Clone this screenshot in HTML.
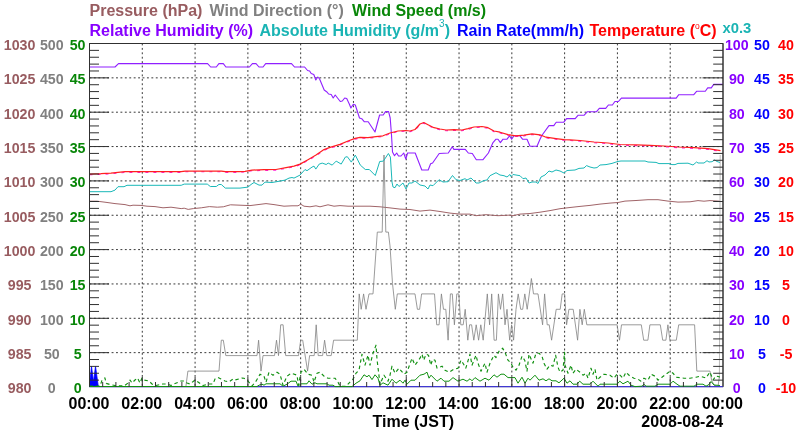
<!DOCTYPE html><html><head><meta charset="utf-8"><style>html,body{margin:0;padding:0;background:#fff;}svg{display:block;will-change:transform;}text{font-family:"Liberation Sans",sans-serif;font-weight:bold;}</style></head><body>
<svg width="800" height="434" viewBox="0 0 800 434">
<rect width="800" height="434" fill="#fff"/>
<g stroke="#383838" stroke-width="1" stroke-dasharray="1.9,2.52"><line x1="142.29" y1="43.5" x2="142.29" y2="387.0"/><line x1="195.08" y1="43.5" x2="195.08" y2="387.0"/><line x1="247.88" y1="43.5" x2="247.88" y2="387.0"/><line x1="300.67" y1="43.5" x2="300.67" y2="387.0"/><line x1="353.46" y1="43.5" x2="353.46" y2="387.0"/><line x1="406.25" y1="43.5" x2="406.25" y2="387.0"/><line x1="459.04" y1="43.5" x2="459.04" y2="387.0"/><line x1="511.83" y1="43.5" x2="511.83" y2="387.0"/><line x1="564.62" y1="43.5" x2="564.62" y2="387.0"/><line x1="617.42" y1="43.5" x2="617.42" y2="387.0"/><line x1="670.21" y1="43.5" x2="670.21" y2="387.0"/><line x1="89.5" y1="352.65" x2="723.0" y2="352.65"/><line x1="89.5" y1="318.3" x2="723.0" y2="318.3"/><line x1="89.5" y1="283.95" x2="723.0" y2="283.95"/><line x1="89.5" y1="249.6" x2="723.0" y2="249.6"/><line x1="89.5" y1="215.25" x2="723.0" y2="215.25"/><line x1="89.5" y1="180.9" x2="723.0" y2="180.9"/><line x1="89.5" y1="146.55" x2="723.0" y2="146.55"/><line x1="89.5" y1="112.2" x2="723.0" y2="112.2"/><line x1="89.5" y1="77.85" x2="723.0" y2="77.85"/></g>
<rect x="89.5" y="43.5" width="633.5" height="343.1" fill="none" stroke="#404040" stroke-width="1"/>
<polyline points="89.5,201.2 97.0,201.2 105.0,202.2 115.0,203.6 125.0,204.6 130.0,205.8 133.0,205.2 141.0,205.4 147.0,206.2 155.0,206.6 163.0,207.8 171.0,207.2 181.2,208.6 184.2,208.2 188.2,209.4 193.3,208.6 201.3,207.8 209.3,206.6 217.3,207.2 223.3,206.8 230.4,204.8 240.0,205.2 250.0,205.6 258.0,204.6 266.0,203.6 274.0,204.6 284.0,206.2 292.0,205.8 298.0,205.8 300.7,204.2 304.0,206.2 310.0,206.8 316.0,205.8 320.0,206.8 328.0,204.8 334.0,206.2 340.0,205.6 348.0,206.2 360.0,206.2 370.0,206.2 380.0,206.8 390.0,207.9 400.0,209.1 410.0,209.5 420.0,211.1 430.0,210.1 440.0,211.5 450.0,213.1 460.0,214.1 470.0,214.1 476.0,215.7 486.0,214.7 498.0,215.7 510.0,215.1 513.0,215.7 520.0,214.1 530.0,213.5 540.0,212.2 550.0,210.6 560.0,208.7 570.0,207.5 580.0,206.4 590.0,205.4 600.0,204.1 610.0,203.1 618.0,202.5 625.0,201.1 636.0,200.5 648.0,199.7 658.0,199.7 668.0,201.1 678.0,202.1 690.0,201.8 698.0,200.6 704.0,201.2 710.0,200.6 720.0,201.2" fill="none" stroke="#a06468" stroke-width="1" stroke-linejoin="round" />
<polyline points="89.5,386.5 185.9,386.5 187.9,371.1 219.0,371.1 221.3,340.2 223.3,340.2 225.8,355.6 257.0,355.6 258.6,340.2 261.0,371.1 263.0,355.6 274.5,355.6 276.5,340.2 278.5,355.6 280.7,324.8 283.1,324.8 285.7,355.6 298.5,355.6 300.7,340.2 302.7,340.2 307.6,371.1 309.6,355.6 314.2,355.6 316.2,324.8 318.2,355.6 322.6,355.6 324.6,340.2 326.8,355.6 331.2,355.6 333.6,340.2 357.3,340.2 359.2,293.9 361.2,309.3 363.6,293.9 366.0,309.3 369.0,293.9 373.0,293.9 377.3,232.1 382.2,232.1 384.0,155.0 385.8,232.1 388.4,232.1 390.0,245.9 392.5,283.6 395.3,309.3 397.3,293.9 415.0,293.9 417.4,309.3 419.6,309.3 421.6,293.9 434.5,293.9 436.7,324.8 439.1,324.8 441.4,293.9 443.5,309.3 445.8,309.3 448.1,340.2 450.4,293.9 452.3,293.9 454.4,324.8 456.8,293.9 458.8,293.9 460.8,324.8 463.2,324.8 465.2,309.3 467.8,340.2 469.6,324.8 471.6,324.8 473.8,340.2 476.2,324.8 478.6,340.2 480.8,324.8 483.2,340.2 487.3,293.9 489.6,324.8 491.7,293.9 494.1,340.2 496.4,340.2 498.4,293.9 500.5,309.3 502.7,293.9 505.0,324.8 507.0,309.3 509.7,340.2 511.6,324.8 513.6,340.2 516.0,309.3 518.2,293.9 520.7,309.3 522.7,309.3 524.8,293.9 527.2,309.3 531.4,278.5 533.5,293.9 538.0,293.9 542.6,324.8 544.6,293.9 547.2,324.8 549.2,324.8 551.6,340.2 556.2,309.3 560.2,309.3 562.2,293.9 564.6,293.9 566.6,324.8 568.9,309.3 573.2,309.3 577.6,340.2 579.9,309.3 582.2,324.8 584.3,309.3 586.8,324.8 617.1,324.8 619.5,340.2 621.5,324.8 641.3,324.8 643.7,340.2 647.9,340.2 649.9,324.8 660.3,324.8 662.7,340.2 665.9,340.2 667.9,324.8 669.9,340.2 676.3,340.2 678.7,324.8 694.6,324.8 696.8,371.1 710.0,371.1 711.6,380.3 714.0,385.1 718.0,386.5 719.4,376.9" fill="none" stroke="#828282" stroke-width="0.8" stroke-linejoin="round" />
<polyline points="719.4,376.9 720.2,155.0" fill="none" stroke="#a8a8a8" stroke-width="0.8" stroke-linejoin="round" />
<line x1="89.5" y1="386.6" x2="723" y2="386.6" stroke="#4038d0" stroke-width="1.1"/>
<polygon points="89.5,386.5 89.5,378.5 90.3,378 91.5,366.3 93.5,382 95.5,366.3 98.3,386.5" fill="#0000ff" stroke="#0000ff" stroke-width="0.8"/>
<polyline points="89.5,386.5 257.0,386.5 259.0,385.2 262.0,384.2 264.0,385.2 266.0,383.8 280.0,383.8 283.0,386.2 287.0,384.2 291.0,381.2 296.0,381.2 298.0,386.2 301.0,383.8 307.0,383.8 309.0,380.8 312.0,384.2 315.0,382.8 317.0,383.8 327.0,383.8 329.0,385.2 333.0,385.2 335.0,386.6 352.0,386.6 356.0,383.2 360.0,380.8 364.0,374.8 367.0,376.8 369.0,375.2 372.0,379.6 375.0,374.8 378.0,378.2 380.0,385.2 383.0,382.8 388.0,385.2 392.0,379.2 396.0,383.2 400.0,380.2 403.0,383.2 405.0,380.2 407.0,384.2 411.0,380.2 415.0,380.2 420.0,375.2 424.0,374.2 427.0,372.2 429.0,378.2 431.0,375.2 437.0,381.2 441.0,378.2 444.0,381.2 449.0,381.2 453.0,377.6 458.0,381.2 463.0,379.2 467.0,381.2 470.0,378.8 472.0,380.8 475.0,377.6 480.0,381.2 485.0,378.2 489.0,380.2 494.0,374.8 497.0,377.2 501.0,374.2 504.0,374.2 508.0,377.6 515.0,377.6 518.0,383.2 522.0,377.2 525.0,383.2 528.0,378.2 530.0,380.2 535.0,375.2 539.0,380.2 543.0,378.8 546.0,380.8 549.0,378.8 552.0,380.8 556.0,380.8 559.0,382.8 564.0,378.2 567.0,383.2 570.0,380.8 573.0,384.2 577.0,384.2 579.7,381.2 583.0,384.2 590.0,384.2 593.0,381.2 598.0,386.2 600.0,384.2 617.0,384.2 619.8,381.2 623.0,383.8 628.0,381.2 631.0,385.2 635.0,386.6 642.0,386.2 644.0,384.2 646.0,386.2 655.0,386.2 658.0,384.2 670.0,384.2 673.0,381.2 677.0,384.2 680.0,386.2 694.0,386.2 697.0,384.2 703.0,384.2 706.0,386.2 709.0,384.5 711.0,381.5 714.0,385.0 720.0,385.5" fill="none" stroke="#109010" stroke-width="1" stroke-linejoin="round" />
<polyline points="89.5,386.0 100.0,386.0 101.9,380.6 104.9,377.8 106.2,383.4 109.6,384.4 115.0,385.5 124.0,386.0 128.0,383.0 130.0,380.0 132.0,383.0 135.0,380.0 137.5,378.0 140.0,383.0 142.0,378.0 144.0,380.0 149.0,381.0 152.0,384.0 156.0,385.5 163.0,384.0 167.0,384.0 171.0,385.5 174.0,384.0 179.0,382.0 181.0,381.0 184.0,381.0 187.0,383.0 190.0,384.0 195.0,380.0 198.0,382.0 203.0,385.5 209.0,384.0 213.0,384.0 215.0,379.0 218.0,377.5 221.0,379.0 225.0,381.0 229.0,382.0 233.0,379.0 235.0,380.0 239.0,379.0 242.0,378.0 244.0,378.2 248.0,381.2 252.0,386.0 256.0,381.2 260.0,374.2 264.0,376.2 266.0,382.2 269.0,372.2 273.0,375.2 277.0,372.2 280.0,374.2 283.0,385.2 287.0,376.2 291.0,373.2 297.0,375.2 298.5,385.2 301.0,372.2 304.0,369.2 308.0,374.2 312.0,375.2 314.0,382.2 317.0,373.2 320.0,372.2 324.0,376.2 328.0,378.2 335.0,378.2 338.0,382.2 340.0,386.2 346.0,386.2 350.0,382.2 353.0,379.2 356.0,373.2 359.0,370.2 362.0,354.2 365.0,365.2 368.0,355.2 370.0,365.2 373.0,353.2 376.0,345.2 377.0,359.2 380.0,384.2 384.0,375.2 388.0,381.2 390.0,375.2 392.0,366.2 395.0,373.2 399.0,368.2 404.0,374.2 407.0,372.2 412.0,358.2 415.0,365.2 420.0,358.2 422.0,354.2 423.7,360.2 426.0,354.2 428.5,355.2 430.7,365.2 432.7,359.2 435.0,360.2 437.0,368.2 442.0,366.2 445.0,370.2 449.0,372.2 454.0,369.2 458.0,368.2 461.0,360.2 463.0,363.2 465.8,368.2 470.0,354.2 472.0,365.2 476.0,355.2 478.0,363.2 481.0,371.2 485.0,363.2 487.0,372.2 490.0,363.2 494.0,355.2 496.0,357.6 499.0,351.2 502.7,348.2 505.0,352.2 508.0,360.2 511.0,363.2 513.0,367.2 516.0,370.2 519.0,365.2 522.0,356.2 524.7,360.2 527.0,371.2 529.0,354.2 533.0,363.2 536.0,353.2 539.0,353.2 542.0,356.2 544.0,363.2 547.0,369.2 550.0,365.2 553.0,366.2 555.6,355.2 558.0,367.2 560.0,372.2 563.0,370.2 564.5,352.2 565.0,365.2 568.0,373.2 571.0,365.2 573.0,373.2 576.0,369.2 580.0,372.2 583.0,375.2 586.0,373.2 588.0,378.2 591.0,368.2 593.0,374.2 595.0,369.2 597.0,380.2 600.0,377.2 604.0,374.2 610.0,375.2 614.0,378.2 617.0,374.2 620.0,375.2 623.0,378.2 626.0,372.2 630.0,376.2 634.0,378.2 638.0,379.2 641.0,381.2 644.0,378.2 648.0,380.2 651.0,374.2 655.0,376.2 658.0,380.2 662.0,377.2 666.0,374.2 670.0,371.2 673.0,373.2 676.0,377.2 684.0,378.2 690.0,378.2 696.0,377.2 700.0,376.2 706.0,378.0 710.0,372.0 713.0,380.0 716.0,376.0 720.0,377.0" fill="none" stroke="#109010" stroke-width="1.15" stroke-linejoin="round" stroke-dasharray="3.5,3"/>
<polyline points="89.5,67.0 115.0,67.0 118.5,63.6 207.6,63.6 210.7,67.0 216.3,67.0 218.9,63.6 223.3,63.6 225.9,67.0 249.4,67.0 252.4,63.6 256.0,63.6 259.0,67.0 263.0,67.0 265.7,63.6 291.5,63.6 294.5,67.0 304.6,67.0 307.6,70.5 309.6,71.0 311.2,73.5 313.8,74.5 315.8,80.0 317.8,77.0 319.6,79.0 324.2,90.0 326.6,91.7 328.6,94.0 331.2,94.5 333.2,98.0 335.2,95.0 340.3,101.5 342.3,101.0 344.7,98.0 346.7,98.5 349.3,104.0 350.9,108.0 353.3,104.3 355.3,105.0 359.5,118.0 361.7,118.7 364.2,121.7 368.2,121.7 375.0,132.0 379.6,115.0 383.2,115.0 385.5,111.6 388.6,111.6 390.2,118.0 391.5,135.0 392.5,152.0 394.5,155.7 396.7,153.0 398.5,156.0 401.0,156.0 403.7,153.0 405.8,159.0 407.6,153.0 415.2,153.0 421.8,170.0 428.2,170.0 430.6,163.8 432.6,163.0 439.2,153.5 448.3,153.0 452.3,146.7 453.9,149.4 465.3,149.4 468.3,153.0 472.3,153.5 476.3,159.8 482.8,159.8 488.4,153.0 490.8,147.5 493.0,142.6 496.0,139.2 498.0,139.2 500.4,142.6 503.0,139.2 507.0,139.2 509.6,135.8 511.6,139.2 514.0,135.8 520.0,135.8 522.5,139.2 527.0,139.2 530.0,146.2 537.0,146.2 540.0,139.2 542.0,135.2 549.0,125.6 553.8,125.6 556.2,122.2 563.8,122.2 566.6,118.6 575.2,118.6 578.2,115.2 584.2,115.2 587.2,111.8 596.3,111.8 599.3,108.4 605.7,108.4 608.4,105.0 612.4,105.0 614.9,101.5 618.4,101.5 621.4,98.1 676.2,98.1 678.8,94.7 693.8,94.7 696.6,91.3 705.3,91.3 707.7,87.9 711.3,87.9 713.7,84.4 722.7,84.4" fill="none" stroke="#9020ff" stroke-width="1.1" stroke-linejoin="round" />
<polyline points="89.5,191.7 111.0,191.7 115.0,190.1 118.0,186.7 124.0,186.7 127.0,185.3 181.2,185.3 184.2,184.1 207.3,184.1 210.3,186.5 216.3,186.5 218.9,184.5 221.3,184.5 225.3,188.1 240.0,188.1 248.0,187.1 251.0,184.5 254.0,182.5 259.0,185.1 262.0,185.1 265.0,182.1 272.0,182.5 280.0,181.1 285.0,180.1 289.0,178.1 292.0,177.5 294.0,178.1 300.0,175.1 305.0,169.5 307.0,170.7 312.0,167.1 314.0,166.1 315.8,169.1 319.2,164.1 322.2,163.1 326.2,164.5 328.2,163.1 332.2,165.1 336.2,161.1 341.2,164.1 345.3,157.1 347.3,156.7 351.3,162.1 355.3,155.1 360.3,165.1 365.3,169.5 369.3,169.5 375.3,175.5 379.7,161.5 383.4,161.1 388.4,153.5 390.4,157.1 392.0,182.0 393.0,187.0 395.0,187.7 397.0,184.0 399.0,186.5 403.0,183.0 406.0,189.0 409.0,183.0 412.0,183.0 415.0,181.0 420.0,185.0 425.0,186.0 428.0,189.0 430.0,185.0 433.0,185.7 439.0,179.7 443.0,182.0 448.0,181.7 452.5,175.5 456.0,179.7 460.0,180.5 465.0,178.7 467.0,180.0 471.0,178.0 476.0,183.0 479.0,183.0 484.0,180.5 487.0,180.0 490.0,175.7 496.0,172.7 500.0,175.0 504.0,175.7 507.0,177.0 510.0,174.5 511.0,176.5 513.0,174.5 520.0,175.7 523.0,178.7 526.0,178.0 529.0,183.0 532.0,182.0 536.0,182.0 538.0,183.5 541.0,177.0 545.0,175.0 549.0,171.0 552.0,172.0 556.0,170.0 560.0,171.0 564.0,173.0 567.0,170.5 575.0,170.0 579.0,168.4 584.0,168.0 586.5,165.6 590.0,167.0 594.0,168.0 597.0,167.6 600.0,165.0 606.0,164.6 612.0,163.4 618.0,161.4 621.0,161.0 645.0,161.0 648.0,162.0 656.0,162.4 659.0,163.6 669.0,163.6 672.0,164.6 675.0,164.6 678.0,163.4 688.0,163.2 693.0,165.0 696.6,162.0 698.0,163.0 704.0,163.0 707.0,160.7 709.0,162.0 712.0,161.7 714.6,160.0 717.0,161.5 720.0,162.5" fill="none" stroke="#1ab8b8" stroke-width="1" stroke-linejoin="round" />
<polyline points="89.5,174.8 101.0,174.4 111.0,173.8 125.0,172.4 181.2,172.4 185.2,171.8 221.3,171.8 225.3,172.4 239.4,172.4 245.0,172.0 252.0,170.8 264.0,170.4 276.0,170.2 286.0,168.4 294.0,166.8 300.0,164.8 308.0,160.4 316.0,155.8 324.0,150.3 330.0,148.1 340.0,145.1 348.0,141.7 355.0,139.1 360.0,138.1 368.0,138.3 376.0,137.3 383.0,136.5 390.0,133.7 398.0,131.7 406.0,131.2 410.0,131.7 415.0,130.2 420.0,124.7 423.8,123.2 428.0,125.4 434.0,128.4 440.0,129.7 446.0,130.7 454.0,130.4 462.0,130.7 468.0,129.4 474.0,127.7 482.0,127.2 488.0,128.4 494.0,131.7 500.0,132.9 508.0,135.3 516.0,136.5 524.0,135.9 532.0,134.5 540.0,135.5 546.0,137.9 556.0,139.3 564.0,140.3 570.0,140.5 580.0,141.2 594.0,142.7 608.0,143.7 620.0,145.2 636.0,145.6 650.0,146.0 664.0,146.7 678.0,147.7 694.0,148.4 708.0,149.4 720.5,151.4" fill="none" stroke="#ff20e0" stroke-width="1.1" stroke-linejoin="round" stroke-dasharray="3,5"/>
<polyline points="89.5,174.1 101.0,173.7 111.0,173.1 125.0,171.7 181.2,171.7 185.2,171.1 221.3,171.1 225.3,171.7 239.4,171.7 245.0,171.3 252.0,170.1 264.0,169.7 276.0,169.5 286.0,167.7 294.0,166.1 300.0,164.1 308.0,159.7 316.0,155.1 324.0,149.6 330.0,147.4 340.0,144.4 348.0,141.0 355.0,138.4 360.0,137.4 368.0,137.6 376.0,136.6 383.0,135.8 390.0,133.0 398.0,131.0 406.0,130.5 410.0,131.0 415.0,129.5 420.0,124.0 423.8,122.5 428.0,124.7 434.0,127.7 440.0,129.0 446.0,130.0 454.0,129.7 462.0,130.0 468.0,128.7 474.0,127.0 482.0,126.5 488.0,127.7 494.0,131.0 500.0,132.2 508.0,134.6 516.0,135.8 524.0,135.2 532.0,133.8 540.0,134.8 546.0,137.2 556.0,138.6 564.0,139.6 570.0,139.8 580.0,140.5 594.0,142.0 608.0,143.0 620.0,144.5 636.0,144.9 650.0,145.3 664.0,146.0 678.0,147.0 694.0,147.7 708.0,148.7 720.5,150.7" fill="none" stroke="#ff2020" stroke-width="1.2" stroke-linejoin="round" />
<g stroke="#303030" stroke-width="1"><line x1="89.5" y1="43.5" x2="89.5" y2="386.6"/><line x1="723.0" y1="43.5" x2="723.0" y2="386.6"/><line x1="89.5" y1="43.5" x2="723.0" y2="43.5"/><line x1="89.5" y1="380.13" x2="99.0" y2="380.13"/><line x1="723.0" y1="380.13" x2="713.2" y2="380.13"/><line x1="89.5" y1="373.26" x2="99.0" y2="373.26"/><line x1="723.0" y1="373.26" x2="713.2" y2="373.26"/><line x1="89.5" y1="366.39" x2="99.0" y2="366.39"/><line x1="723.0" y1="366.39" x2="713.2" y2="366.39"/><line x1="89.5" y1="359.52" x2="99.0" y2="359.52"/><line x1="723.0" y1="359.52" x2="713.2" y2="359.52"/><line x1="89.5" y1="352.65" x2="109.0" y2="352.65"/><line x1="723.0" y1="352.65" x2="702.5" y2="352.65"/><line x1="89.5" y1="345.78" x2="99.0" y2="345.78"/><line x1="723.0" y1="345.78" x2="713.2" y2="345.78"/><line x1="89.5" y1="338.91" x2="99.0" y2="338.91"/><line x1="723.0" y1="338.91" x2="713.2" y2="338.91"/><line x1="89.5" y1="332.04" x2="99.0" y2="332.04"/><line x1="723.0" y1="332.04" x2="713.2" y2="332.04"/><line x1="89.5" y1="325.17" x2="99.0" y2="325.17"/><line x1="723.0" y1="325.17" x2="713.2" y2="325.17"/><line x1="89.5" y1="318.3" x2="109.0" y2="318.3"/><line x1="723.0" y1="318.3" x2="702.5" y2="318.3"/><line x1="89.5" y1="311.43" x2="99.0" y2="311.43"/><line x1="723.0" y1="311.43" x2="713.2" y2="311.43"/><line x1="89.5" y1="304.56" x2="99.0" y2="304.56"/><line x1="723.0" y1="304.56" x2="713.2" y2="304.56"/><line x1="89.5" y1="297.69" x2="99.0" y2="297.69"/><line x1="723.0" y1="297.69" x2="713.2" y2="297.69"/><line x1="89.5" y1="290.82" x2="99.0" y2="290.82"/><line x1="723.0" y1="290.82" x2="713.2" y2="290.82"/><line x1="89.5" y1="283.95" x2="109.0" y2="283.95"/><line x1="723.0" y1="283.95" x2="702.5" y2="283.95"/><line x1="89.5" y1="277.08" x2="99.0" y2="277.08"/><line x1="723.0" y1="277.08" x2="713.2" y2="277.08"/><line x1="89.5" y1="270.21" x2="99.0" y2="270.21"/><line x1="723.0" y1="270.21" x2="713.2" y2="270.21"/><line x1="89.5" y1="263.34" x2="99.0" y2="263.34"/><line x1="723.0" y1="263.34" x2="713.2" y2="263.34"/><line x1="89.5" y1="256.47" x2="99.0" y2="256.47"/><line x1="723.0" y1="256.47" x2="713.2" y2="256.47"/><line x1="89.5" y1="249.6" x2="109.0" y2="249.6"/><line x1="723.0" y1="249.6" x2="702.5" y2="249.6"/><line x1="89.5" y1="242.73" x2="99.0" y2="242.73"/><line x1="723.0" y1="242.73" x2="713.2" y2="242.73"/><line x1="89.5" y1="235.86" x2="99.0" y2="235.86"/><line x1="723.0" y1="235.86" x2="713.2" y2="235.86"/><line x1="89.5" y1="228.99" x2="99.0" y2="228.99"/><line x1="723.0" y1="228.99" x2="713.2" y2="228.99"/><line x1="89.5" y1="222.12" x2="99.0" y2="222.12"/><line x1="723.0" y1="222.12" x2="713.2" y2="222.12"/><line x1="89.5" y1="215.25" x2="109.0" y2="215.25"/><line x1="723.0" y1="215.25" x2="702.5" y2="215.25"/><line x1="89.5" y1="208.38" x2="99.0" y2="208.38"/><line x1="723.0" y1="208.38" x2="713.2" y2="208.38"/><line x1="89.5" y1="201.51" x2="99.0" y2="201.51"/><line x1="723.0" y1="201.51" x2="713.2" y2="201.51"/><line x1="89.5" y1="194.64" x2="99.0" y2="194.64"/><line x1="723.0" y1="194.64" x2="713.2" y2="194.64"/><line x1="89.5" y1="187.77" x2="99.0" y2="187.77"/><line x1="723.0" y1="187.77" x2="713.2" y2="187.77"/><line x1="89.5" y1="180.9" x2="109.0" y2="180.9"/><line x1="723.0" y1="180.9" x2="702.5" y2="180.9"/><line x1="89.5" y1="174.03" x2="99.0" y2="174.03"/><line x1="723.0" y1="174.03" x2="713.2" y2="174.03"/><line x1="89.5" y1="167.16" x2="99.0" y2="167.16"/><line x1="723.0" y1="167.16" x2="713.2" y2="167.16"/><line x1="89.5" y1="160.29" x2="99.0" y2="160.29"/><line x1="723.0" y1="160.29" x2="713.2" y2="160.29"/><line x1="89.5" y1="153.42" x2="99.0" y2="153.42"/><line x1="723.0" y1="153.42" x2="713.2" y2="153.42"/><line x1="89.5" y1="146.55" x2="109.0" y2="146.55"/><line x1="723.0" y1="146.55" x2="702.5" y2="146.55"/><line x1="89.5" y1="139.68" x2="99.0" y2="139.68"/><line x1="723.0" y1="139.68" x2="713.2" y2="139.68"/><line x1="89.5" y1="132.81" x2="99.0" y2="132.81"/><line x1="723.0" y1="132.81" x2="713.2" y2="132.81"/><line x1="89.5" y1="125.94" x2="99.0" y2="125.94"/><line x1="723.0" y1="125.94" x2="713.2" y2="125.94"/><line x1="89.5" y1="119.07" x2="99.0" y2="119.07"/><line x1="723.0" y1="119.07" x2="713.2" y2="119.07"/><line x1="89.5" y1="112.2" x2="109.0" y2="112.2"/><line x1="723.0" y1="112.2" x2="702.5" y2="112.2"/><line x1="89.5" y1="105.33" x2="99.0" y2="105.33"/><line x1="723.0" y1="105.33" x2="713.2" y2="105.33"/><line x1="89.5" y1="98.46" x2="99.0" y2="98.46"/><line x1="723.0" y1="98.46" x2="713.2" y2="98.46"/><line x1="89.5" y1="91.59" x2="99.0" y2="91.59"/><line x1="723.0" y1="91.59" x2="713.2" y2="91.59"/><line x1="89.5" y1="84.72" x2="99.0" y2="84.72"/><line x1="723.0" y1="84.72" x2="713.2" y2="84.72"/><line x1="89.5" y1="77.85" x2="109.0" y2="77.85"/><line x1="723.0" y1="77.85" x2="702.5" y2="77.85"/><line x1="89.5" y1="70.98" x2="99.0" y2="70.98"/><line x1="723.0" y1="70.98" x2="713.2" y2="70.98"/><line x1="89.5" y1="64.11" x2="99.0" y2="64.11"/><line x1="723.0" y1="64.11" x2="713.2" y2="64.11"/><line x1="89.5" y1="57.24" x2="99.0" y2="57.24"/><line x1="723.0" y1="57.24" x2="713.2" y2="57.24"/><line x1="89.5" y1="50.37" x2="99.0" y2="50.37"/><line x1="723.0" y1="50.37" x2="713.2" y2="50.37"/><line x1="102.7" y1="387.0" x2="102.7" y2="382.0"/><line x1="115.9" y1="387.0" x2="115.9" y2="382.0"/><line x1="129.09" y1="387.0" x2="129.09" y2="382.0"/><line x1="142.29" y1="387.0" x2="142.29" y2="377.0"/><line x1="155.49" y1="387.0" x2="155.49" y2="382.0"/><line x1="168.69" y1="387.0" x2="168.69" y2="382.0"/><line x1="181.89" y1="387.0" x2="181.89" y2="382.0"/><line x1="195.08" y1="387.0" x2="195.08" y2="377.0"/><line x1="208.28" y1="387.0" x2="208.28" y2="382.0"/><line x1="221.48" y1="387.0" x2="221.48" y2="382.0"/><line x1="234.68" y1="387.0" x2="234.68" y2="382.0"/><line x1="247.88" y1="387.0" x2="247.88" y2="377.0"/><line x1="261.07" y1="387.0" x2="261.07" y2="382.0"/><line x1="274.27" y1="387.0" x2="274.27" y2="382.0"/><line x1="287.47" y1="387.0" x2="287.47" y2="382.0"/><line x1="300.67" y1="387.0" x2="300.67" y2="377.0"/><line x1="313.86" y1="387.0" x2="313.86" y2="382.0"/><line x1="327.06" y1="387.0" x2="327.06" y2="382.0"/><line x1="340.26" y1="387.0" x2="340.26" y2="382.0"/><line x1="353.46" y1="387.0" x2="353.46" y2="377.0"/><line x1="366.66" y1="387.0" x2="366.66" y2="382.0"/><line x1="379.85" y1="387.0" x2="379.85" y2="382.0"/><line x1="393.05" y1="387.0" x2="393.05" y2="382.0"/><line x1="406.25" y1="387.0" x2="406.25" y2="377.0"/><line x1="419.45" y1="387.0" x2="419.45" y2="382.0"/><line x1="432.65" y1="387.0" x2="432.65" y2="382.0"/><line x1="445.84" y1="387.0" x2="445.84" y2="382.0"/><line x1="459.04" y1="387.0" x2="459.04" y2="377.0"/><line x1="472.24" y1="387.0" x2="472.24" y2="382.0"/><line x1="485.44" y1="387.0" x2="485.44" y2="382.0"/><line x1="498.64" y1="387.0" x2="498.64" y2="382.0"/><line x1="511.83" y1="387.0" x2="511.83" y2="377.0"/><line x1="525.03" y1="387.0" x2="525.03" y2="382.0"/><line x1="538.23" y1="387.0" x2="538.23" y2="382.0"/><line x1="551.43" y1="387.0" x2="551.43" y2="382.0"/><line x1="564.62" y1="387.0" x2="564.62" y2="377.0"/><line x1="577.82" y1="387.0" x2="577.82" y2="382.0"/><line x1="591.02" y1="387.0" x2="591.02" y2="382.0"/><line x1="604.22" y1="387.0" x2="604.22" y2="382.0"/><line x1="617.42" y1="387.0" x2="617.42" y2="377.0"/><line x1="630.61" y1="387.0" x2="630.61" y2="382.0"/><line x1="643.81" y1="387.0" x2="643.81" y2="382.0"/><line x1="657.01" y1="387.0" x2="657.01" y2="382.0"/><line x1="670.21" y1="387.0" x2="670.21" y2="377.0"/><line x1="683.41" y1="387.0" x2="683.41" y2="382.0"/><line x1="696.6" y1="387.0" x2="696.6" y2="382.0"/><line x1="709.8" y1="387.0" x2="709.8" y2="382.0"/></g>
<text transform="translate(19.6 393.4) scale(0.95 1)" fill="#985c60" font-size="15" text-anchor="middle">980</text><text transform="translate(51.8 393.4) scale(0.95 1)" fill="#808080" font-size="15" text-anchor="middle">0</text><text transform="translate(77.6 393.4) scale(0.95 1)" fill="#088608" font-size="15" text-anchor="middle">0</text><text transform="translate(736.8 393.4) scale(0.95 1)" fill="#8800ff" font-size="15" text-anchor="middle">0</text><text transform="translate(762 393.4) scale(0.95 1)" fill="#0000ff" font-size="15" text-anchor="middle">0</text><text transform="translate(786 393.4) scale(0.95 1)" fill="#ff0000" font-size="15" text-anchor="middle">-10</text><text transform="translate(19.6 359.0) scale(0.95 1)" fill="#985c60" font-size="15" text-anchor="middle">985</text><text transform="translate(51.8 359.0) scale(0.95 1)" fill="#808080" font-size="15" text-anchor="middle">50</text><text transform="translate(77.6 359.0) scale(0.95 1)" fill="#088608" font-size="15" text-anchor="middle">5</text><text transform="translate(736.8 359.0) scale(0.95 1)" fill="#8800ff" font-size="15" text-anchor="middle">10</text><text transform="translate(762 359.0) scale(0.95 1)" fill="#0000ff" font-size="15" text-anchor="middle">5</text><text transform="translate(786 359.0) scale(0.95 1)" fill="#ff0000" font-size="15" text-anchor="middle">-5</text><text transform="translate(19.6 324.7) scale(0.95 1)" fill="#985c60" font-size="15" text-anchor="middle">990</text><text transform="translate(51.8 324.7) scale(0.95 1)" fill="#808080" font-size="15" text-anchor="middle">100</text><text transform="translate(77.6 324.7) scale(0.95 1)" fill="#088608" font-size="15" text-anchor="middle">10</text><text transform="translate(736.8 324.7) scale(0.95 1)" fill="#8800ff" font-size="15" text-anchor="middle">20</text><text transform="translate(762 324.7) scale(0.95 1)" fill="#0000ff" font-size="15" text-anchor="middle">10</text><text transform="translate(786 324.7) scale(0.95 1)" fill="#ff0000" font-size="15" text-anchor="middle">0</text><text transform="translate(19.6 290.3) scale(0.95 1)" fill="#985c60" font-size="15" text-anchor="middle">995</text><text transform="translate(51.8 290.3) scale(0.95 1)" fill="#808080" font-size="15" text-anchor="middle">150</text><text transform="translate(77.6 290.3) scale(0.95 1)" fill="#088608" font-size="15" text-anchor="middle">15</text><text transform="translate(736.8 290.3) scale(0.95 1)" fill="#8800ff" font-size="15" text-anchor="middle">30</text><text transform="translate(762 290.3) scale(0.95 1)" fill="#0000ff" font-size="15" text-anchor="middle">15</text><text transform="translate(786 290.3) scale(0.95 1)" fill="#ff0000" font-size="15" text-anchor="middle">5</text><text transform="translate(19.6 256.0) scale(0.95 1)" fill="#985c60" font-size="15" text-anchor="middle">1000</text><text transform="translate(51.8 256.0) scale(0.95 1)" fill="#808080" font-size="15" text-anchor="middle">200</text><text transform="translate(77.6 256.0) scale(0.95 1)" fill="#088608" font-size="15" text-anchor="middle">20</text><text transform="translate(736.8 256.0) scale(0.95 1)" fill="#8800ff" font-size="15" text-anchor="middle">40</text><text transform="translate(762 256.0) scale(0.95 1)" fill="#0000ff" font-size="15" text-anchor="middle">20</text><text transform="translate(786 256.0) scale(0.95 1)" fill="#ff0000" font-size="15" text-anchor="middle">10</text><text transform="translate(19.6 221.7) scale(0.95 1)" fill="#985c60" font-size="15" text-anchor="middle">1005</text><text transform="translate(51.8 221.7) scale(0.95 1)" fill="#808080" font-size="15" text-anchor="middle">250</text><text transform="translate(77.6 221.7) scale(0.95 1)" fill="#088608" font-size="15" text-anchor="middle">25</text><text transform="translate(736.8 221.7) scale(0.95 1)" fill="#8800ff" font-size="15" text-anchor="middle">50</text><text transform="translate(762 221.7) scale(0.95 1)" fill="#0000ff" font-size="15" text-anchor="middle">25</text><text transform="translate(786 221.7) scale(0.95 1)" fill="#ff0000" font-size="15" text-anchor="middle">15</text><text transform="translate(19.6 187.3) scale(0.95 1)" fill="#985c60" font-size="15" text-anchor="middle">1010</text><text transform="translate(51.8 187.3) scale(0.95 1)" fill="#808080" font-size="15" text-anchor="middle">300</text><text transform="translate(77.6 187.3) scale(0.95 1)" fill="#088608" font-size="15" text-anchor="middle">30</text><text transform="translate(736.8 187.3) scale(0.95 1)" fill="#8800ff" font-size="15" text-anchor="middle">60</text><text transform="translate(762 187.3) scale(0.95 1)" fill="#0000ff" font-size="15" text-anchor="middle">30</text><text transform="translate(786 187.3) scale(0.95 1)" fill="#ff0000" font-size="15" text-anchor="middle">20</text><text transform="translate(19.6 153.0) scale(0.95 1)" fill="#985c60" font-size="15" text-anchor="middle">1015</text><text transform="translate(51.8 153.0) scale(0.95 1)" fill="#808080" font-size="15" text-anchor="middle">350</text><text transform="translate(77.6 153.0) scale(0.95 1)" fill="#088608" font-size="15" text-anchor="middle">35</text><text transform="translate(736.8 153.0) scale(0.95 1)" fill="#8800ff" font-size="15" text-anchor="middle">70</text><text transform="translate(762 153.0) scale(0.95 1)" fill="#0000ff" font-size="15" text-anchor="middle">35</text><text transform="translate(786 153.0) scale(0.95 1)" fill="#ff0000" font-size="15" text-anchor="middle">25</text><text transform="translate(19.6 118.6) scale(0.95 1)" fill="#985c60" font-size="15" text-anchor="middle">1020</text><text transform="translate(51.8 118.6) scale(0.95 1)" fill="#808080" font-size="15" text-anchor="middle">400</text><text transform="translate(77.6 118.6) scale(0.95 1)" fill="#088608" font-size="15" text-anchor="middle">40</text><text transform="translate(736.8 118.6) scale(0.95 1)" fill="#8800ff" font-size="15" text-anchor="middle">80</text><text transform="translate(762 118.6) scale(0.95 1)" fill="#0000ff" font-size="15" text-anchor="middle">40</text><text transform="translate(786 118.6) scale(0.95 1)" fill="#ff0000" font-size="15" text-anchor="middle">30</text><text transform="translate(19.6 84.2) scale(0.95 1)" fill="#985c60" font-size="15" text-anchor="middle">1025</text><text transform="translate(51.8 84.2) scale(0.95 1)" fill="#808080" font-size="15" text-anchor="middle">450</text><text transform="translate(77.6 84.2) scale(0.95 1)" fill="#088608" font-size="15" text-anchor="middle">45</text><text transform="translate(736.8 84.2) scale(0.95 1)" fill="#8800ff" font-size="15" text-anchor="middle">90</text><text transform="translate(762 84.2) scale(0.95 1)" fill="#0000ff" font-size="15" text-anchor="middle">45</text><text transform="translate(786 84.2) scale(0.95 1)" fill="#ff0000" font-size="15" text-anchor="middle">35</text><text transform="translate(19.6 49.9) scale(0.95 1)" fill="#985c60" font-size="15" text-anchor="middle">1030</text><text transform="translate(51.8 49.9) scale(0.95 1)" fill="#808080" font-size="15" text-anchor="middle">500</text><text transform="translate(77.6 49.9) scale(0.95 1)" fill="#088608" font-size="15" text-anchor="middle">50</text><text transform="translate(736.8 49.9) scale(0.95 1)" fill="#8800ff" font-size="15" text-anchor="middle">100</text><text transform="translate(762 49.9) scale(0.95 1)" fill="#0000ff" font-size="15" text-anchor="middle">50</text><text transform="translate(786 49.9) scale(0.95 1)" fill="#ff0000" font-size="15" text-anchor="middle">40</text><text transform="translate(89.0 409.2) scale(1 1)" fill="#000" font-size="16" text-anchor="middle">00:00</text><text transform="translate(141.8 409.2) scale(1 1)" fill="#000" font-size="16" text-anchor="middle">02:00</text><text transform="translate(194.6 409.2) scale(1 1)" fill="#000" font-size="16" text-anchor="middle">04:00</text><text transform="translate(247.4 409.2) scale(1 1)" fill="#000" font-size="16" text-anchor="middle">06:00</text><text transform="translate(300.2 409.2) scale(1 1)" fill="#000" font-size="16" text-anchor="middle">08:00</text><text transform="translate(353.0 409.2) scale(1 1)" fill="#000" font-size="16" text-anchor="middle">10:00</text><text transform="translate(405.7 409.2) scale(1 1)" fill="#000" font-size="16" text-anchor="middle">12:00</text><text transform="translate(458.5 409.2) scale(1 1)" fill="#000" font-size="16" text-anchor="middle">14:00</text><text transform="translate(511.3 409.2) scale(1 1)" fill="#000" font-size="16" text-anchor="middle">16:00</text><text transform="translate(564.1 409.2) scale(1 1)" fill="#000" font-size="16" text-anchor="middle">18:00</text><text transform="translate(616.9 409.2) scale(1 1)" fill="#000" font-size="16" text-anchor="middle">20:00</text><text transform="translate(669.7 409.2) scale(1 1)" fill="#000" font-size="16" text-anchor="middle">22:00</text><text transform="translate(722.5 409.2) scale(1 1)" fill="#000" font-size="16" text-anchor="middle">00:00</text><text transform="translate(372.5 427.0) scale(1 1)" fill="#000" font-size="16" text-anchor="start">Time (JST)</text><text transform="translate(723.2 427.0) scale(1 1)" fill="#000" font-size="16" text-anchor="end">2008-08-24</text><text x="89.5" y="15.5" fill="#985c60" font-size="16">Pressure (hPa)</text><text x="209.5" y="15.5" fill="#808080" font-size="16">Wind Direction (°)</text><text x="352" y="15.5" fill="#088608" font-size="16">Wind Speed (m/s)</text><text x="89.5" y="35.8" fill="#8800ff" font-size="16">Relative Humidity (%)</text><text x="259.5" y="35.8" fill="#1ab4b4" font-size="16">Absolute Humidity (g/m<tspan dy="-8.5" font-size="10" font-weight="normal">3</tspan><tspan dy="8.5">)</tspan></text><text x="457" y="35.8" fill="#0000ff" font-size="16">Rain Rate(mm/h)</text><text x="589.5" y="35.8" fill="#ff0000" font-size="16">Temperature (<tspan dy="-6.5" font-size="8.5" font-weight="normal">o</tspan><tspan dy="6.5">C)</tspan></text><text x="722.5" y="32.5" fill="#1ab4b4" font-size="14.8">x0.3</text>
</svg></body></html>
